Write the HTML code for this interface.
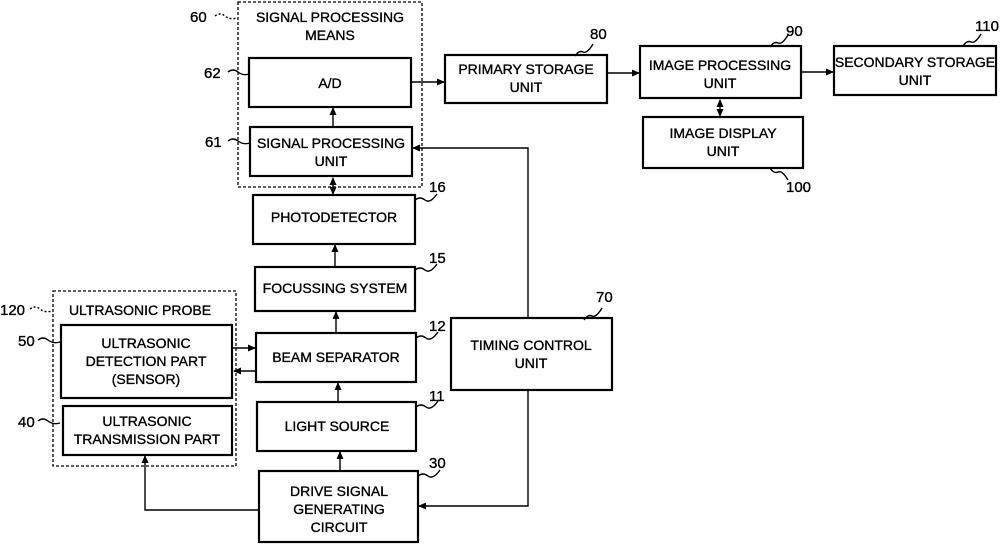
<!DOCTYPE html>
<html><head><meta charset="utf-8"><style>
html,body{margin:0;padding:0;background:#fff;}
svg{display:block;}
text{font-family:"Liberation Sans",sans-serif;font-size:14px;fill:#000;stroke:#000;stroke-width:0.35;text-anchor:middle;}
.n{font-size:15px;text-anchor:start;}
.b{fill:#fff;stroke:#000;stroke-width:2.2;}
.d{fill:none;stroke:#000;stroke-width:1.3;stroke-dasharray:3,2;}
.l{fill:none;stroke:#000;stroke-width:1.4;}
</style></head><body>
<svg width="1004" height="546" viewBox="0 0 1004 546" xmlns="http://www.w3.org/2000/svg">
<defs><marker id="a" markerWidth="8" markerHeight="8" refX="7" refY="4" orient="auto" markerUnits="userSpaceOnUse"><path d="M0,0.5 L8,4 L0,7.5z" fill="#000"/></marker>
<marker id="s" markerWidth="8" markerHeight="8" refX="1" refY="4" orient="auto" markerUnits="userSpaceOnUse"><path d="M8,0.5 L0,4 L8,7.5z" fill="#000"/></marker></defs>

<rect class="d" x="238" y="2" width="184" height="185"/>
<rect class="d" x="53" y="291" width="183" height="175"/>

<!-- boxes -->
<rect class="b" x="249" y="58" width="162" height="49"/>
<text x="330" y="88">A/D</text>
<rect class="b" x="250" y="127" width="162" height="49"/>
<text x="331" y="148">SIGNAL PROCESSING</text><text x="331" y="166">UNIT</text>
<rect class="b" x="253" y="195" width="162" height="49"/>
<text x="334" y="222">PHOTODETECTOR</text>
<rect class="b" x="255" y="267" width="160" height="44"/>
<text x="335" y="293">FOCUSSING SYSTEM</text>
<rect class="b" x="256" y="333" width="160" height="49"/>
<text x="336" y="362">BEAM SEPARATOR</text>
<rect class="b" x="257" y="402" width="159" height="49"/>
<text x="337" y="431">LIGHT SOURCE</text>
<rect class="b" x="259" y="471" width="159" height="71"/>
<text x="339" y="496">DRIVE SIGNAL</text><text x="339" y="514">GENERATING</text><text x="339" y="532">CIRCUIT</text>
<rect class="b" x="451" y="318" width="161" height="72"/>
<text x="531" y="350">TIMING CONTROL</text><text x="531" y="368">UNIT</text>
<rect class="b" x="445" y="55" width="162" height="48"/>
<text x="526" y="74">PRIMARY STORAGE</text><text x="526" y="92">UNIT</text>
<rect class="b" x="640" y="46" width="161" height="52"/>
<text x="720" y="70">IMAGE PROCESSING</text><text x="720" y="88">UNIT</text>
<rect class="b" x="834" y="46" width="162" height="49"/>
<text x="915" y="67">SECONDARY STORAGE</text><text x="915" y="85">UNIT</text>
<rect class="b" x="643" y="117" width="160" height="51"/>
<text x="723" y="138">IMAGE DISPLAY</text><text x="723" y="156">UNIT</text>
<rect class="b" x="61" y="325" width="171" height="73"/>
<text x="146" y="348">ULTRASONIC</text><text x="146" y="366">DETECTION PART</text><text x="146" y="384">(SENSOR)</text>
<rect class="b" x="63" y="406" width="169" height="49"/>
<text x="147" y="426">ULTRASONIC</text><text x="147" y="444">TRANSMISSION PART</text>

<!-- connectors -->
<line class="l" x1="412" y1="82" x2="444" y2="82" marker-end="url(#a)"/>
<line class="l" x1="608" y1="73" x2="639" y2="73" marker-end="url(#a)"/>
<line class="l" x1="802" y1="72" x2="833" y2="72" marker-end="url(#a)"/>
<line class="l" x1="720" y1="100" x2="720" y2="116" marker-start="url(#s)" marker-end="url(#a)"/>
<line class="l" x1="333" y1="126" x2="333" y2="108" marker-end="url(#a)"/>
<line class="l" x1="333" y1="178" x2="333" y2="194" marker-start="url(#s)" marker-end="url(#a)"/>
<line class="l" x1="335" y1="266" x2="335" y2="245" marker-end="url(#a)"/>
<line class="l" x1="336" y1="332" x2="336" y2="312" marker-end="url(#a)"/>
<line class="l" x1="338" y1="401" x2="338" y2="383" marker-end="url(#a)"/>
<line class="l" x1="340" y1="470" x2="340" y2="452" marker-end="url(#a)"/>
<line class="l" x1="233" y1="348" x2="255" y2="348" marker-end="url(#a)"/>
<line class="l" x1="255" y1="371" x2="234" y2="371" marker-end="url(#a)"/>
<polyline class="l" points="258,510 145,510 145,456" marker-end="url(#a)"/>
<polyline class="l" points="528,317 528,148 413,148" marker-end="url(#a)"/>
<polyline class="l" points="528,391 528,506 419,506" marker-end="url(#a)"/>

<text x="330" y="22">SIGNAL PROCESSING</text><text x="330" y="40">MEANS</text>
<text x="140" y="315">ULTRASONIC PROBE</text>

<!-- reference numbers -->
<text class="n" x="190" y="22">60</text><path class="l" d="M215,16 q5,-4 10,0 t12,2" stroke-dasharray="2,2"/>
<text class="n" x="204" y="78">62</text><path class="l" d="M228,72 q5,-4 10,0 t11,2"/>
<text class="n" x="205" y="147">61</text><path class="l" d="M228,141 q5,-4 10,0 t12,2"/>
<text class="n" x="429" y="192">16</text><path class="l" d="M415,200 q5,-4 10,0 t12,-6"/>
<text class="n" x="429" y="263">15</text><path class="l" d="M415,270 q5,-4 10,0 t12,-6"/>
<text class="n" x="429" y="331">12</text><path class="l" d="M416,338 q5,-4 10,0 t12,-6"/>
<text class="n" x="429" y="401">11</text><path class="l" d="M416,407 q5,-4 10,0 t12,-6"/>
<text class="n" x="429" y="468">30</text><path class="l" d="M418,476 q5,-4 10,0 t12,-6"/>
<text class="n" x="596" y="302">70</text><path class="l" d="M584,320 q4,-6 8,-4 t10,-8"/>
<text class="n" x="590" y="39">80</text><path class="l" d="M575,56 q4,-6 8,-4 t10,-8"/>
<text class="n" x="786" y="36">90</text><path class="l" d="M770,47 q4,-6 8,-4 t10,-8"/>
<text class="n" x="975" y="31">110</text><path class="l" d="M963,46 q4,-6 8,-4 t10,-8"/>
<text class="n" x="786" y="192">100</text><path class="l" d="M770,168 q4,6 8,4 t10,8"/>
<text class="n" x="0" y="315">120</text><path class="l" d="M30,309 q5,-4 10,0 t12,2" stroke-dasharray="2,2"/>
<text class="n" x="18" y="346">50</text><path class="l" d="M38,340 q5,-4 10,0 t12,2"/>
<text class="n" x="18" y="427">40</text><path class="l" d="M38,421 q5,-4 10,0 t12,2"/>
</svg>
</body></html>
